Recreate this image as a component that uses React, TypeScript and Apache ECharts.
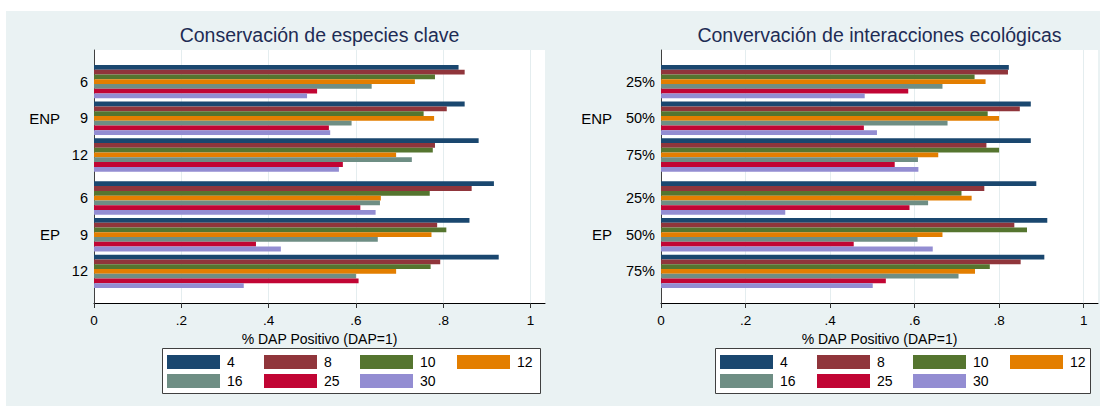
import React, { useEffect, useRef } from "react";
import * as echarts from "echarts";

const sizes = ["4", "8", "10", "12", "16", "25", "30"];
const colors = ["#1a476f", "#90353b", "#55752f", "#e37e00", "#6e8e84", "#c10534", "#938dd2"];
const blocks = ["ENP", "EP"];
const leftRows = ["6", "9", "12"];
const rightRows = ["25%", "50%", "75%"];
const xTicks = [0, 0.2, 0.4, 0.6, 0.8, 1];
const titles = ["Conservación de especies clave", "Convervación de interacciones ecológicas"];
const xName = "% DAP Positivo (DAP=1)";
const legendColumns = [["4", "16"], ["8", "25"], ["10", "30"], ["12"]];

// values per series (rows = sizes 4..30), columns = row categories
const especiesENP = [
  [0.835, 0.849, 0.881],
  [0.849, 0.808, 0.781],
  [0.781, 0.755, 0.776],
  [0.735, 0.779, 0.692],
  [0.636, 0.590, 0.728],
  [0.511, 0.538, 0.570],
  [0.488, 0.541, 0.561],
];
const especiesEP = [
  [0.916, 0.860, 0.927],
  [0.865, 0.786, 0.793],
  [0.769, 0.807, 0.771],
  [0.657, 0.773, 0.692],
  [0.655, 0.650, 0.600],
  [0.610, 0.371, 0.606],
  [0.645, 0.428, 0.343],
];
const interENP = [
  [0.823, 0.875, 0.875],
  [0.821, 0.849, 0.770],
  [0.742, 0.773, 0.800],
  [0.768, 0.800, 0.656],
  [0.666, 0.678, 0.608],
  [0.585, 0.480, 0.553],
  [0.482, 0.511, 0.609],
];
const interEP = [
  [0.888, 0.914, 0.907],
  [0.765, 0.836, 0.851],
  [0.711, 0.866, 0.778],
  [0.735, 0.666, 0.743],
  [0.632, 0.607, 0.704],
  [0.588, 0.456, 0.532],
  [0.294, 0.643, 0.501],
];

const FONT = "'Liberation Sans', Arial, sans-serif";

export default function App() {
  const ref = useRef<HTMLDivElement>(null);
  useEffect(() => {
    if (!ref.current) return;
    const chart = echarts.init(ref.current, undefined, { renderer: "svg" });

    const panels = [
      { left: 94, width: 451, max: 1.033, rows: leftRows, data: [especiesENP, especiesEP], nameGap: 34, legendX: [167, 264, 360, 457], box: [162.5, 348.5, 378, 45] },
      { left: 661, width: 437, max: 1.034, rows: rightRows, data: [interENP, interEP], nameGap: 49, legendX: [720, 817, 913, 1010], box: [715.5, 348.5, 375, 45] },
    ];
    const plotTop = 50;
    const plotH = 253;
    const blockTops = [63.3, 179.7];
    const blockH = 110;

    const grid: any[] = [];
    const xAxis: any[] = [];
    const yAxis: any[] = [];
    const series: any[] = [];
    const title: any[] = [];
    const legend: any[] = [];
    const graphic: any[] = [
      { type: "rect", shape: { x: 6, y: 11, width: 1094, height: 395 }, style: { fill: "#eaf2f3" }, z: -10, silent: true },
    ];

    const fmt = (v: number) => (v === 0 ? "0" : v === 1 ? "1" : String(Math.round(v * 10) / 10).replace("0.", "."));

    panels.forEach((p, pi) => {
      const base = grid.length;
      grid.push({ left: p.left, top: plotTop, width: p.width, height: plotH, show: true, backgroundColor: "#ffffff", borderWidth: 0 });
      xAxis.push({
        gridIndex: base, type: "value", min: 0, max: p.max, interval: 0.2,
        axisLine: { show: true, lineStyle: { color: "#000", width: 1 } },
        axisTick: { show: true, length: 5, customValues: xTicks, lineStyle: { color: "#333" } },
        axisLabel: { customValues: xTicks, formatter: fmt, margin: 10, fontSize: 13.5, color: "#000", fontFamily: FONT },
        splitLine: { show: true, lineStyle: { color: "#e4edef", width: 1 } },
        name: xName, nameLocation: "middle", nameGap: 26,
        nameTextStyle: { fontSize: 14, color: "#000", fontFamily: FONT },
      });
      yAxis.push({
        gridIndex: base, type: "value", min: 0, max: 1,
        axisLine: { show: true, onZero: false, lineStyle: { color: "#404040", width: 1 } },
        axisTick: { show: false }, axisLabel: { show: false }, splitLine: { show: false },
      });
      blocks.forEach((b, bi) => {
        const gi = grid.length;
        grid.push({ left: p.left, top: blockTops[bi], width: p.width, height: blockH, show: false });
        xAxis.push({ gridIndex: gi, type: "value", min: 0, max: p.max, show: false, splitLine: { show: false } });
        yAxis.push({
          gridIndex: gi, type: "category", inverse: true, data: p.rows,
          axisLine: { show: false }, axisTick: { show: false },
          axisLabel: { margin: 6, fontSize: 14.5, color: "#000", fontFamily: FONT },
          name: b, nameLocation: "middle", nameRotate: 0, nameGap: p.nameGap,
          nameTextStyle: { fontSize: 15, color: "#000", fontFamily: FONT, align: "right", verticalAlign: "middle" },
        });
        sizes.forEach((s, si) => {
          series.push({
            type: "bar", name: s, xAxisIndex: gi, yAxisIndex: gi,
            data: p.data[bi][si], barGap: "0%", barCategoryGap: "9%",
            itemStyle: { color: colors[si] }, silent: true,
          });
        });
      });
      title.push({
        text: titles[pi], left: p.left + p.width / 2, top: 25, textAlign: "center", padding: 0,
        textStyle: { fontSize: 19.5, fontWeight: "normal", color: "#1e2c55", fontFamily: FONT },
      });
      graphic.push({
        type: "rect", shape: { x: p.box[0], y: p.box[1], width: p.box[2], height: p.box[3] },
        style: { fill: "#ffffff", stroke: "#404040", lineWidth: 1 }, silent: true,
      });
      legendColumns.forEach((col, ci) => {
        legend.push({
          data: col, orient: "vertical", left: p.legendX[ci], top: 355, padding: 0,
          itemWidth: 53, itemHeight: 14, itemGap: 5, icon: "rect", selectedMode: false,
          textStyle: { fontSize: 14, color: "#000", fontFamily: FONT, lineHeight: 14, padding: [0, 0, 0, 2] },
        });
      });
    });

    chart.setOption({
      animation: false,
      backgroundColor: "#ffffff",
      textStyle: { fontFamily: FONT },
      title, grid, xAxis, yAxis, series, legend, graphic,
    });
    return () => chart.dispose();
  }, []);
  return <div ref={ref} style={{ position: "fixed", left: 0, top: 0, width: 1100, height: 406 }} />;
}
